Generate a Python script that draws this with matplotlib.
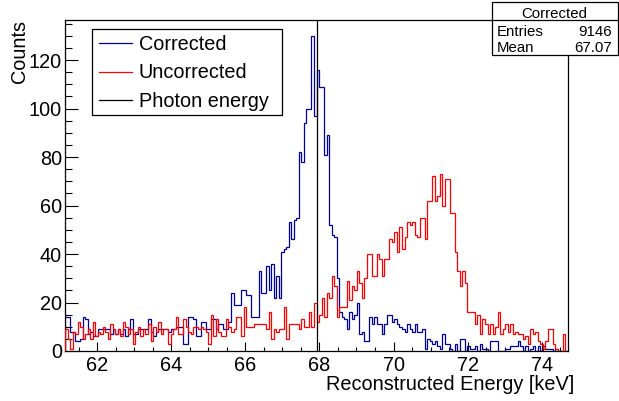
import numpy as np
import matplotlib
matplotlib.use('Agg')
import matplotlib.pyplot as plt
from matplotlib.lines import Line2D
from matplotlib.patches import Rectangle
from matplotlib.ticker import MultipleLocator

plt.rcParams['font.family'] = ['Liberation Sans', 'DejaVu Sans']

# ---------------- data ----------------
photon_energy = 67.92
x_min = 61.128
x_max = 74.712
n_bins = 200

corrected = [
    14, 14, 8, 8, 4, 4, 5, 14, 13, 7,
    8, 6, 6, 9, 9, 9, 9, 9, 7, 9,
    7, 9, 7, 9, 6, 9, 13, 7, 7, 9,
    9, 9, 9, 13, 8, 6, 8, 9, 9, 9,
    9, 8, 9, 9, 10, 10, 10, 3, 3, 14,
    14, 13, 6, 6, 12, 12, 9, 9, 13, 13,
    9, 11, 11, 9, 9, 12, 24, 19, 19, 19,
    25, 25, 23, 23, 14, 14, 14, 33, 24, 24,
    35, 25, 36, 22, 31, 22, 41, 42, 43, 53,
    46, 54, 55, 82, 78, 94, 100, 100, 130, 97,
    116, 109, 109, 81, 89, 52, 48, 47, 30, 16,
    14, 13, 9, 16, 13, 15, 20, 7, 8, 4,
    4, 14, 11, 14, 11, 11, 7, 11, 15, 15,
    12, 13, 11, 10, 9, 8, 11, 9, 8, 11,
    8, 8, 9, 1, 5, 4, 3, 4, 2, 1,
    7, 3, 3, 1, 0, 3, 0, 5, 5, 0,
    2, 1, 1, 2, 0, 3, 1, 1, 0, 4,
    4, 4, 0, 0, 0, 1, 1, 2, 2, 2,
    4, 2, 0, 2, 0, 1, 2, 0, 2, 0,
    2, 1, 1, 1, 0, 1, 0, 0, 0, 0,
]

uncorrected = [
    9, 5, 1, 8, 7, 12, 10, 5, 7, 9,
    5, 12, 6, 8, 7, 10, 8, 5, 11, 9,
    7, 9, 6, 12, 10, 7, 9, 3, 8, 10,
    6, 9, 7, 11, 4, 10, 8, 12, 7, 9,
    9, 3, 7, 9, 14, 7, 7, 13, 10, 8,
    7, 10, 10, 9, 10, 9, 8, 3, 15, 6,
    13, 8, 6, 6, 13, 10, 8, 9, 14, 14,
    6, 18, 10, 10, 10, 11, 11, 11, 11, 11,
    9, 16, 5, 9, 8, 9, 9, 18, 5, 11,
    11, 11, 11, 9, 13, 10, 10, 16, 10, 20,
    12, 15, 22, 14, 24, 22, 31, 27, 14, 18,
    18, 18, 29, 21, 27, 25, 33, 28, 22, 30,
    40, 40, 31, 31, 40, 38, 31, 38, 38, 46,
    45, 49, 41, 51, 42, 47, 53, 52, 53, 48,
    47, 55, 55, 46, 62, 62, 72, 62, 64, 73,
    60, 71, 71, 57, 57, 41, 33, 27, 33, 28,
    16, 16, 16, 11, 15, 7, 13, 11, 7, 11,
    7, 10, 16, 7, 9, 11, 8, 11, 7, 8,
    7, 7, 5, 6, 3, 9, 7, 8, 4, 3,
    1, 4, 9, 9, 3, 1, 0, 0, 7, 0,
]

legend_labels = ['Corrected', 'Uncorrected', 'Photon energy']
stats_title = 'Corrected'
stats_entries = '9146'
stats_mean = '67.07'
x_label = 'Reconstructed Energy [keV]'
y_label = 'Counts'

# ---------------- figure ----------------
W, H = 619, 401
fig = plt.figure(figsize=(W / 100, H / 100), dpi=100)
fig.patch.set_facecolor('white')

def fx(px):
    return px / W

def fy(py):
    return 1 - py / H

ax = fig.add_axes([fx(65), fy(351), (568 - 65) / W, (351 - 20) / H])

edges = np.linspace(x_min, x_max, n_bins + 1)
blue = '#00009c'
red = '#ff0000'

ax.stairs(corrected, edges, color=blue, lw=0.9, zorder=2)
ax.stairs(uncorrected, edges, color=red, lw=0.9, zorder=3)
ax.axvline(photon_energy, color='black', lw=0.9, zorder=4)

ax.set_xlim(x_min, x_max)
ax.set_ylim(0, 1.05 * max(max(corrected), max(uncorrected)))

for s in ax.spines.values():
    s.set_linewidth(0.9)
    s.set_color('black')

ax.xaxis.set_major_locator(MultipleLocator(2))
ax.xaxis.set_minor_locator(MultipleLocator(0.5))
ax.yaxis.set_major_locator(MultipleLocator(20))
ax.yaxis.set_minor_locator(MultipleLocator(5))

ax.tick_params(axis='x', which='major', direction='in', length=6.5, width=0.8,
               labelsize=14.3, pad=3.6, top=False)
ax.tick_params(axis='x', which='minor', direction='in', length=3.2, width=0.8, top=False)
ax.tick_params(axis='y', which='major', direction='in', length=9.4, width=0.8,
               labelsize=14.3, pad=2.2, right=False)
ax.tick_params(axis='y', which='minor', direction='in', length=5, width=0.8, right=False)

# axis titles (ROOT style: aligned to axis end)
fig.text(fx(574), fy(390), x_label, ha='right', va='baseline', fontsize=14.3)
fig.text(fx(25), fy(20), y_label, ha='right', va='baseline', rotation=90,
         rotation_mode='anchor', fontsize=14.3)

# ---------------- legend (ROOT TLegend style) ----------------
leg_box = Rectangle((fx(92), fy(115)), (282 - 92) / W, (115 - 29) / H,
                    transform=fig.transFigure, facecolor='white', edgecolor='black',
                    lw=0.9, zorder=5)
fig.add_artist(leg_box)
leg_colors = [blue, red, 'black']
line_ys = [43.3, 71.7, 100.0]
base_ys = [50.0, 78.3, 106.7]
for lab, col, ly, by in zip(legend_labels, leg_colors, line_ys, base_ys):
    fig.add_artist(Line2D([fx(99), fx(132)], [fy(ly), fy(ly)], color=col, lw=0.9,
                          transform=fig.transFigure, zorder=6))
    fig.text(fx(139), fy(by), lab, ha='left', va='baseline', fontsize=14.3, zorder=6)

# ---------------- stats box ----------------
st_box = Rectangle((fx(491.5), fy(54.5)), (617.5 - 491.5) / W, (54.5 - 2.5) / H,
                   transform=fig.transFigure, facecolor='white', edgecolor='black',
                   lw=0.9, zorder=5)
fig.add_artist(st_box)
fig.add_artist(Line2D([fx(491.5), fx(617.5)], [fy(20), fy(20)], color='black', lw=0.9,
                      transform=fig.transFigure, zorder=6))
fig.text(fx(554.5), fy(18), stats_title, ha='center', va='baseline', fontsize=10.8, zorder=6)
fig.text(fx(497), fy(36.5), 'Entries', ha='left', va='baseline', fontsize=10.8, zorder=6)
fig.text(fx(612), fy(36.5), stats_entries, ha='right', va='baseline', fontsize=10.8, zorder=6)
fig.text(fx(497), fy(51.5), 'Mean', ha='left', va='baseline', fontsize=10.8, zorder=6)
fig.text(fx(612), fy(51.5), stats_mean, ha='right', va='baseline', fontsize=10.8, zorder=6)

fig.savefig('out.png', dpi=100)
